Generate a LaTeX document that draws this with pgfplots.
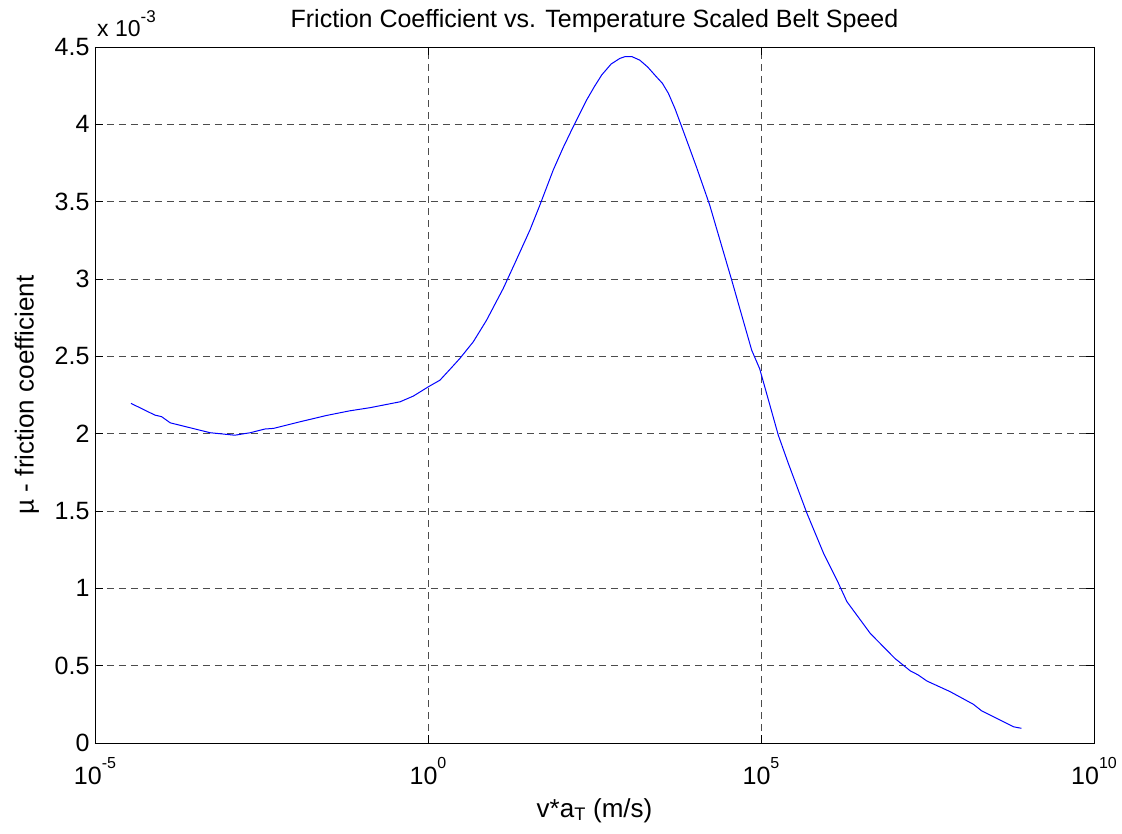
\documentclass[border=0pt]{standalone}
\usepackage{pgfplots}
\pgfplotsset{compat=1.18}
\usepackage{fontspec}
\setmainfont{Liberation Sans}
\newcommand\tp[1]{10\raisebox{16pt}{\fontsize{16}{16}\selectfont #1}}
\begin{document}
\begin{tikzpicture}
\begin{axis}[
  scale only axis,
  width=999pt, height=696pt,
  xmode=log,
  xmin=1e-5, xmax=1e10,
  ymin=0, ymax=4.5,
  xtick={1e-5,1,1e5,1e10},
  xticklabels={\tp{-5},\tp{0},\tp{5},\tp{10}},
  ytick={0,0.5,1,1.5,2,2.5,3,3.5,4,4.5},
  yticklabels={0,0.5,1,1.5,2,2.5,3,3.5,4,4.5},
  minor tick num=0,
  minor xtick={},
  log basis x=10,
  tick align=inside,
  major tick length=8pt,
  tick style={black, line width=0.8pt},
  axis line style={black, line width=0.9pt},
  grid=major,
  major grid style={black!70, line width=0.8pt, dash pattern=on 7pt off 5pt},
  ticklabel style={font=\fontsize{25}{29}\selectfont},
  xticklabel style={anchor=base, yshift=-41pt},
  yticklabel style={xshift=-2pt},
  title={Friction Coefficient vs. Temperature Scaled Belt Speed},
  title style={font=\fontsize{25}{29}\selectfont, at={(axis description cs:0.5,1)}, anchor=base, yshift=13pt},
  xlabel={v*a\textsubscript{T} (m/s)},
  ylabel={\textmu\ - friction coefficient},
  label style={font=\fontsize{26}{30}\selectfont},
  xlabel style={at={(axis description cs:0.5,0)}, anchor=base, yshift=-74pt},
  ylabel style={at={(axis description cs:0,0.5)}, anchor=center, yshift=68pt},
]
\addplot[blue, line width=1pt] coordinates {
(10^-4.46,2.196)
(10^-4.10,2.12)
(10^-4.00,2.11)
(10^-3.87,2.07)
(10^-3.27,2.006)
(10^-2.90,1.99)
(10^-2.67,2.006)
(10^-2.45,2.03)
(10^-2.32,2.034)
(10^-1.92,2.077)
(10^-1.52,2.118)
(10^-1.17,2.148)
(10^-0.87,2.168)
(10^-0.42,2.206)
(10^-0.22,2.243)
(10^0.005,2.303)
(10^0.18,2.346)
(10^0.33,2.416)
(10^0.48,2.487)
(10^0.68,2.594)
(10^0.88,2.734)
(10^1.13,2.939)
(10^1.28,3.079)
(10^1.53,3.316)
(10^1.68,3.478)
(10^1.88,3.704)
(10^2.03,3.850)
(10^2.18,3.984)
(10^2.38,4.156)
(10^2.50,4.245)
(10^2.61,4.32)
(10^2.75,4.390)
(10^2.88,4.426)
(10^2.96,4.438)
(10^3.06,4.438)
(10^3.18,4.415)
(10^3.30,4.370)
(10^3.43,4.307)
(10^3.52,4.265)
(10^3.61,4.20)
(10^3.71,4.10)
(10^3.81,3.984)
(10^3.92,3.855)
(10^4.03,3.725)
(10^4.23,3.478)
(10^4.31,3.36)
(10^4.56,2.993)
(10^4.86,2.54)
(10^4.98,2.42)
(10^5.26,1.99)
(10^5.41,1.808)
(10^5.69,1.485)
(10^5.94,1.226)
(10^6.14,1.054)
(10^6.29,0.914)
(10^6.64,0.709)
(10^7.01,0.547)
(10^7.24,0.467)
(10^7.36,0.44)
(10^7.49,0.401)
(10^7.84,0.332)
(10^8.19,0.25)
(10^8.31,0.209)
(10^8.79,0.105)
(10^8.91,0.095)
};
\coordinate (ll) at (rel axis cs:0,0);
\coordinate (ul) at (rel axis cs:0,1);
\end{axis}
\node[anchor=base west, font=\fontsize{23}{27}\selectfont, inner sep=0pt] at ([shift={(2pt,10pt)}]ul) {x 10\raisebox{14pt}{\fontsize{17}{17}\selectfont -3}};
\pgfresetboundingbox
\path ([shift={(-95pt,-90pt)}]ll) rectangle ++(1122pt,833pt);
\end{tikzpicture}
\end{document}
